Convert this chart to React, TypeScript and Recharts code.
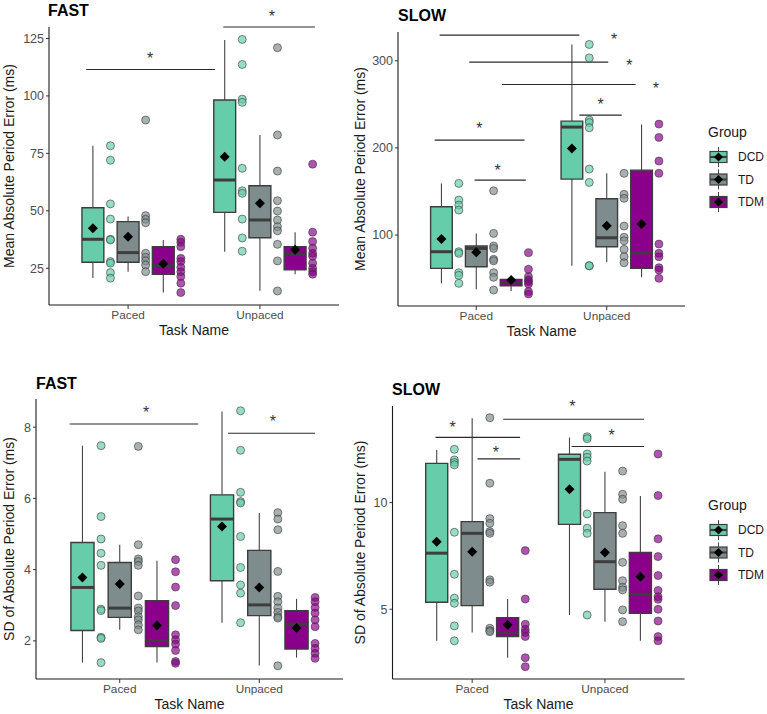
import {
  ComposedChart,
  XAxis,
  YAxis,
  Scatter,
  ReferenceArea,
  ReferenceLine,
  ReferenceDot,
} from 'recharts'

const TASKS = ['Paced', 'Unpaced']
const GROUPS = ['DCD', 'TD', 'TDM']
const GROUP_COLORS = ['#66CDAA', '#7F8C8D', '#8B008B']

// box stats, order Paced DCD/TD/TDM then Unpaced DCD/TD/TDM
// [lower whisker, q1, median, q3, upper whisker, mean]
const fastMeanBoxes = [
  [20.7, 27.6, 37.6, 51.3, 78.3, 42.4],
  [23.5, 27.6, 31.8, 45.3, 47.5, 38.7],
  [14.4, 22.4, 26.1, 34.4, 37.3, 26.9],
  [32.2, 49.3, 63.4, 98.2, 124.3, 73.5],
  [15.2, 38.3, 46.0, 60.9, 83.0, 53.3],
  [22.4, 24.3, 31.1, 34.4, 40.7, 33.0],
]
const fastMeanPoints = [
  [78.3, 72.0, 53.0, 46.4, 37.6, 37.3, 27.9, 27.2, 23.1, 20.7],
  [89.5, 47.9, 46.3, 44.8, 31.5, 29.8, 28.2, 26.4, 23.5],
  [37.6, 36.3, 34.4, 29.3, 27.9, 25.4, 23.5, 21.4, 18.5, 14.4],
  [124.6, 113.7, 98.6, 97.2, 68.5, 58.7, 57.6, 46.4, 38.2, 32.4],
  [121.0, 83.0, 67.3, 54.4, 49.9, 46.0, 43.1, 41.3, 35.4, 28.2, 15.1],
  [70.3, 40.7, 36.6, 33.7, 31.5, 30.2, 27.2, 25.0, 23.5, 22.4],
]
// [x start, x end, y]
const fastMeanBrackets = [
  [0.682, 1.659, 111.5],
  [1.722, 2.417, 130],
]
const fastMeanStars = [
  [1.167, 117.7],
  [2.091, 135.9],
]

const slowMeanBoxes = [
  [44.6, 61.8, 80.9, 132.5, 159.3, 95.4],
  [37.7, 63.6, 84.7, 87.4, 101.9, 80.2],
  [35.8, 41.9, 45.3, 49.2, 52.2, 48.4],
  [64.8, 164.2, 223.9, 230.7, 318.7, 199.4],
  [68.7, 86.6, 96.9, 141.6, 170.8, 110.7],
  [51.5, 61.8, 79.7, 174.5, 226.9, 112.6],
]
const slowMeanPoints = [
  [159.3, 140.1, 134.4, 128.7, 80.9, 79.0, 56.8, 53.8, 44.6],
  [150.8, 101.9, 87.4, 84.7, 72.1, 70.5, 56.8, 51.5, 36.9],
  [79.7, 60.7, 52.2, 48.4, 46.5, 43.8, 35.1, 32.3],
  [318.7, 303.3, 231.9, 229.2, 223.1, 175.7, 160.4, 64.8, 64.8],
  [170.8, 146.7, 142.1, 110.3, 97.4, 93.5, 83.6, 75.1, 68.2],
  [227.3, 212.0, 184.9, 170.8, 89.7, 79.0, 75.1, 62.6, 59.9, 50.3],
]
const slowMeanBrackets = [
  [0.719, 1.79, 329.4],
  [0.946, 2.012, 298.4],
  [1.197, 2.222, 272.8],
  [1.79, 2.115, 237.6],
  [0.681, 1.37, 208.9],
  [0.987, 1.38, 163],
]
const slowMeanStars = [
  [2.056, 327.4],
  [2.173, 298.4],
  [2.377, 272.0],
  [1.954, 253.7],
  [1.023, 226.1],
  [1.163, 178],
]

const fastSdBoxes = [
  [1.39, 2.29, 3.5, 4.76, 7.48, 3.78],
  [2.31, 2.66, 2.92, 4.2, 4.7, 3.6],
  [1.39, 1.84, 2.01, 3.13, 4.25, 2.43],
  [2.51, 3.69, 5.42, 6.1, 8.44, 5.21],
  [1.31, 2.71, 3.01, 4.54, 5.59, 3.5],
  [1.53, 1.77, 2.47, 2.85, 3.18, 2.36],
]
const fastSdPoints = [
  [7.48, 5.49, 4.86, 4.46, 4.12, 2.89, 2.85, 2.1, 2.07, 1.39],
  [7.46, 4.7, 4.3, 4.23, 4.12, 3.26, 2.92, 2.84, 2.68, 2.59, 2.45, 2.31],
  [4.28, 3.94, 3.51, 2.99, 2.17, 2.03, 1.91, 1.73, 1.42, 1.37],
  [8.46, 7.35, 6.17, 5.91, 5.87, 4.93, 4.06, 3.57, 3.34, 2.51],
  [5.6, 5.42, 5.12, 3.95, 3.25, 3.1, 2.92, 2.8, 2.68, 2.64, 1.3],
  [3.22, 3.1, 2.94, 2.78, 2.59, 2.4, 1.93, 1.79, 1.65, 1.51],
]
const fastSdBrackets = [
  [0.641, 1.562, 8.09],
  [1.776, 2.4, 7.83],
]
const fastSdStars = [
  [1.19, 8.49],
  [2.098, 8.24],
]

const slowSdBoxes = [
  [3.52, 5.33, 7.63, 11.84, 12.47, 8.17],
  [3.91, 5.17, 8.56, 9.11, 13.95, 7.7],
  [2.73, 3.72, 3.91, 4.61, 5.48, 4.27],
  [4.73, 8.98, 12.03, 12.27, 13.05, 10.63],
  [4.42, 5.94, 7.23, 9.53, 11.45, 7.66],
  [3.52, 4.81, 5.7, 7.66, 10.31, 6.53],
]
const slowSdPoints = [
  [12.5, 12.0, 11.88, 11.77, 8.61, 6.64, 5.52, 5.28, 4.22, 3.52],
  [13.98, 10.91, 9.25, 9.03, 8.64, 8.56, 6.38, 6.27, 4.11, 4.0, 3.95],
  [7.75, 5.48, 4.3, 4.06, 3.91, 3.72, 2.73, 2.31],
  [13.09, 13.0, 12.28, 12.13, 11.95, 9.47, 8.8, 8.56, 4.73],
  [11.48, 10.39, 10.16, 8.92, 8.56, 7.2, 6.34, 6.03, 5.91, 4.97, 4.42],
  [12.28, 10.33, 8.3, 7.47, 6.58, 5.88, 5.59, 5.47, 5.0, 4.45, 3.72, 3.52],
]
const slowSdBrackets = [
  [0.724, 1.361, 13.06],
  [1.041, 1.361, 12.05],
  [1.234, 2.295, 13.91],
  [1.749, 2.294, 12.63],
]
const slowSdStars = [
  [0.852, 13.64],
  [1.178, 12.5],
  [1.754, 14.66],
  [2.05, 13.28],
]

const DODGE = [-0.267, 0, 0.267]
const POINT_SHIFT = 0.133
const BOX_HALF = 0.083
const FONT = '"Liberation Sans", Arial, Helvetica, sans-serif'
const LINE_DARK = '#3d3d3d'

interface PanelProps {
  yLabel: string
  boxes: number[][]
  points: number[][]
  brackets: number[][]
  stars: number[][]
  domain: [number, number]
  ticks: number[]
  left: number
  top: number
  width: number
  height: number
  margin: { top: number; right: number; bottom: number; left: number }
  yAxisWidth: number
  yLabelOffset: number
}

function boxCenter(i: number): number {
  return Math.floor(i / 3) + 1 + DODGE[i % 3]
}

function Diamond(props: any) {
  const { cx, cy } = props
  const s = 5
  return (
    <polygon
      points={`${cx},${cy - s} ${cx + s},${cy} ${cx},${cy + s} ${cx - s},${cy}`}
      fill="#000"
    />
  )
}

function Star(props: any) {
  return (
    <text
      x={props.cx}
      y={props.cy + 8.5}
      textAnchor="middle"
      fontSize={16}
      fontFamily={FONT}
      style={{ fill: '#333' }}
    >
      *
    </text>
  )
}

function BoxPanel(p: PanelProps) {
  return (
    <div style={{ position: 'absolute', left: p.left, top: p.top }}>
      <ComposedChart width={p.width} height={p.height} margin={p.margin} style={{ fontFamily: FONT }}>
        <XAxis
          type="number"
          dataKey="x"
          domain={[0.4, 2.6]}
          ticks={[1, 2]}
          allowDataOverflow
          tickFormatter={(v: number) => TASKS[v - 1]}
          tickSize={4}
          tickMargin={2}
          height={35}
          tick={{ fill: '#4d4d4d', fontSize: 11.8 }}
          tickLine={{ stroke: '#333' }}
          axisLine={{ stroke: '#1a1a1a', strokeWidth: 1.1 }}
          label={{ value: 'Task Name', position: 'insideBottom', offset: 5, style: { fontSize: 14, fill: '#1a1a1a' } }}
        />
        <YAxis
          type="number"
          dataKey="y"
          domain={p.domain}
          ticks={p.ticks}
          allowDataOverflow
          width={p.yAxisWidth}
          tickSize={3}
          tickMargin={2}
          tick={{ fill: '#4d4d4d', fontSize: 12.5 }}
          tickLine={{ stroke: '#333' }}
          axisLine={{ stroke: '#1a1a1a', strokeWidth: 1.1 }}
          label={{
            value: p.yLabel,
            angle: -90,
            position: 'insideLeft',
            offset: p.yLabelOffset,
            style: { textAnchor: 'middle', fontSize: 14, fill: '#1a1a1a' },
          }}
        />

        {p.boxes.map((b, i) => {
          const c = boxCenter(i)
          return (
            <ReferenceLine
              key={`wl${i}`}
              segment={[{ x: c, y: b[0] }, { x: c, y: b[1] }]}
              stroke="#444"
              strokeWidth={1.1}
              ifOverflow="visible"
            />
          )
        })}
        {p.boxes.map((b, i) => {
          const c = boxCenter(i)
          return (
            <ReferenceLine
              key={`wu${i}`}
              segment={[{ x: c, y: b[3] }, { x: c, y: b[4] }]}
              stroke="#444"
              strokeWidth={1.1}
              ifOverflow="visible"
            />
          )
        })}
        {p.boxes.map((b, i) => {
          const c = boxCenter(i)
          return (
            <ReferenceArea
              key={`box${i}`}
              x1={c - BOX_HALF}
              x2={c + BOX_HALF}
              y1={b[1]}
              y2={b[3]}
              fill={GROUP_COLORS[i % 3]}
              fillOpacity={1}
              stroke={LINE_DARK}
              strokeWidth={1.4}
              ifOverflow="visible"
            />
          )
        })}
        {p.boxes.map((b, i) => {
          const c = boxCenter(i)
          return (
            <ReferenceLine
              key={`med${i}`}
              segment={[{ x: c - BOX_HALF, y: b[2] }, { x: c + BOX_HALF, y: b[2] }]}
              stroke={LINE_DARK}
              strokeWidth={3}
              ifOverflow="visible"
            />
          )
        })}
        {p.brackets.map((br, i) => (
          <ReferenceLine
            key={`br${i}`}
            segment={[{ x: br[0], y: br[2] }, { x: br[1], y: br[2] }]}
            stroke="#2a2a2a"
            strokeWidth={1.1}
            ifOverflow="visible"
          />
        ))}

        {p.points.map((pts, i) => (
          <Scatter
            key={`pts${i}`}
            data={pts.map(y => ({ x: boxCenter(i) + POINT_SHIFT, y }))}
            fill={GROUP_COLORS[i % 3]}
            isAnimationActive={false}
            shape={(s: any) => (
              <circle
                cx={s.cx}
                cy={s.cy}
                r={4}
                fill={GROUP_COLORS[i % 3]}
                fillOpacity={0.68}
                stroke="#333"
                strokeOpacity={0.65}
                strokeWidth={0.9}
              />
            )}
          />
        ))}
        <Scatter
          data={p.boxes.map((b, i) => ({ x: boxCenter(i), y: b[5] }))}
          fill="#000"
          isAnimationActive={false}
          shape={Diamond}
        />

        {p.stars.map((s, i) => (
          <ReferenceDot key={`st${i}`} x={s[0]} y={s[1]} r={0} ifOverflow="visible" shape={Star} />
        ))}
      </ComposedChart>
    </div>
  )
}

function LegendKey({ x, y, color, label }: { x: number; y: number; color: string; label: string }) {
  const s = 4.5
  return (
    <g>
      <line x1={x + 8.5} x2={x + 8.5} y1={y - 10} y2={y + 10} stroke="#444" strokeWidth={1} />
      <rect x={x} y={y - 5.5} width={17} height={11} fill={color} stroke={LINE_DARK} strokeWidth={1.2} />
      <line x1={x} x2={x + 17} y1={y} y2={y} stroke={LINE_DARK} strokeWidth={2.2} />
      <polygon points={`${x + 8.5},${y - s} ${x + 8.5 + s},${y} ${x + 8.5},${y + s} ${x + 8.5 - s},${y}`} fill="#000" />
      <text x={x + 28} y={y + 4.3} fontSize={12} fill="#1a1a1a" fontFamily={FONT}>
        {label}
      </text>
    </g>
  )
}

function GroupLegend({ x, y }: { x: number; y: number }) {
  return (
    <g>
      <text x={x} y={y} fontSize={14} fill="#1a1a1a" fontFamily={FONT}>
        Group
      </text>
      {GROUPS.map((g, i) => (
        <LegendKey key={g} x={x + 2} y={y + 20 + i * 22.5} color={GROUP_COLORS[i]} label={g} />
      ))}
    </g>
  )
}

const TITLES: [string, number, number][] = [
  ['FAST', 48, 16],
  ['SLOW', 398, 20.5],
  ['FAST', 36, 388.5],
  ['SLOW', 392, 395],
]

export default function App() {
  return (
    <div
      style={{
        position: 'absolute',
        left: 0,
        top: 0,
        width: 767,
        height: 714,
        background: '#fff',
        fontFamily: FONT,
        overflow: 'hidden',
      }}
    >
      <BoxPanel
        yLabel="Mean Absolute Period Error (ms)"
        boxes={fastMeanBoxes}
        points={fastMeanPoints}
        brackets={fastMeanBrackets}
        stars={fastMeanStars}
        domain={[9, 130]}
        ticks={[25, 50, 75, 100, 125]}
        left={0}
        top={0}
        width={345}
        height={345}
        margin={{ top: 27, right: 6, bottom: 5, left: 4 }}
        yAxisWidth={45}
        yLabelOffset={5.5}
      />
      <BoxPanel
        yLabel="Mean Absolute Period Error (ms)"
        boxes={slowMeanBoxes}
        points={slowMeanPoints}
        brackets={slowMeanBrackets}
        stars={slowMeanStars}
        domain={[18.6, 333]}
        ticks={[100, 200, 300]}
        left={345}
        top={0}
        width={345}
        height={345}
        margin={{ top: 32, right: 5, bottom: 4, left: 8 }}
        yAxisWidth={45}
        yLabelOffset={7}
      />
      <BoxPanel
        yLabel="SD of Absolute Period Error (ms)"
        boxes={fastSdBoxes}
        points={fastSdPoints}
        brackets={fastSdBrackets}
        stars={fastSdStars}
        domain={[0.93, 8.79]}
        ticks={[2, 4, 6, 8]}
        left={0}
        top={355}
        width={345}
        height={359}
        margin={{ top: 44, right: 2, bottom: 0, left: 4 }}
        yAxisWidth={32}
        yLabelOffset={5.5}
      />
      <BoxPanel
        yLabel="SD of Absolute Period Error (ms)"
        boxes={slowSdBoxes}
        points={slowSdPoints}
        brackets={slowSdBrackets}
        stars={slowSdStars}
        domain={[1.73, 14.53]}
        ticks={[5, 10]}
        left={345}
        top={355}
        width={345}
        height={359}
        margin={{ top: 51, right: 5.4, bottom: 0, left: 2.5 }}
        yAxisWidth={45}
        yLabelOffset={12.5}
      />
      <svg
        width={767}
        height={714}
        style={{ position: 'absolute', left: 0, top: 0, pointerEvents: 'none' }}
      >
        {TITLES.map(([t, x, y], i) => (
          <text key={i} x={x} y={y} fontSize={16} fontWeight="bold" fill="#000" fontFamily={FONT}>
            {t}
          </text>
        ))}
        <GroupLegend x={708} y={137} />
        <GroupLegend x={708} y={510} />
      </svg>
    </div>
  )
}
